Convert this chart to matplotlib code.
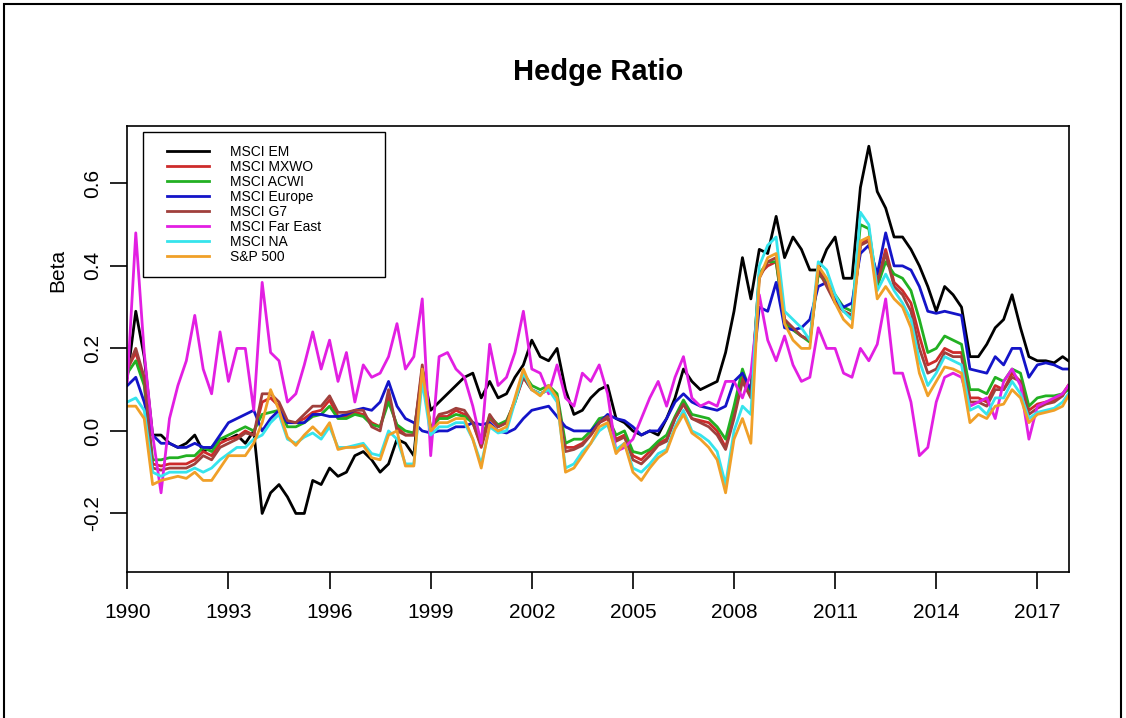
import numpy as np
import matplotlib
matplotlib.use('Agg')
import matplotlib.pyplot as plt
from matplotlib.patches import Rectangle
from matplotlib.legend_handler import HandlerLine2D

plt.rcParams['font.family'] = ['Liberation Sans', 'DejaVu Sans']
plt.rcParams['axes.unicode_minus'] = False

# quarterly betas, 1990Q1 .. 2017Q4 (last point = Dec 2017)
dates = np.append(np.arange(1990.0, 2018.0, 0.25), 2017.92)

msci_em = [
    0.13, 0.29, 0.18, -0.01, -0.01, -0.03, -0.04, -0.03, -0.01, -0.05, -0.04, -0.02, -0.02, -0.01, -0.03, 0.0, -0.2, -0.15, -0.13,
    -0.16, -0.2, -0.2, -0.12, -0.13, -0.09, -0.11, -0.1, -0.06, -0.05, -0.07, -0.1, -0.08, -0.02, -0.03, -0.06, 0.15, 0.05, 0.07,
    0.09, 0.11, 0.13, 0.14, 0.08, 0.12, 0.08, 0.09, 0.13, 0.16, 0.22, 0.18, 0.17, 0.2, 0.1, 0.04, 0.05, 0.08, 0.1,
    0.11, 0.03, 0.02, 0.0, -0.01, 0.0, -0.01, 0.03, 0.08, 0.15, 0.12, 0.1, 0.11, 0.12, 0.19, 0.29, 0.42, 0.32,
    0.44, 0.43, 0.52, 0.42, 0.47, 0.44, 0.39, 0.39, 0.44, 0.47, 0.37, 0.37, 0.59, 0.69, 0.58, 0.54, 0.47, 0.47, 0.44,
    0.40, 0.35, 0.29, 0.35, 0.33, 0.30, 0.18, 0.18, 0.21, 0.25, 0.27, 0.33, 0.25, 0.18, 0.17, 0.17, 0.165, 0.18, 0.17]

msci_mxwo = [
    0.15, 0.19, 0.12, -0.08, -0.085, -0.08, -0.08, -0.08, -0.07, -0.05, -0.06, -0.03, -0.02, -0.015, 0.0, -0.01, 0.07, 0.08, 0.06,
    0.02, 0.02, 0.03, 0.045, 0.05, 0.075, 0.035, 0.035, 0.045, 0.04, 0.02, 0.01, 0.08, 0.01, -0.01, -0.01, 0.15, 0.0, 0.035,
    0.035, 0.05, 0.04, 0.02, -0.04, 0.03, 0.01, 0.02, 0.07, 0.13, 0.1, 0.09, 0.1, 0.08, -0.04, -0.04, -0.03, -0.01, 0.02,
    0.03, -0.02, -0.01, -0.06, -0.07, -0.05, -0.03, -0.02, 0.03, 0.065, 0.03, 0.025, 0.02, 0.0, -0.04, 0.04, 0.13, 0.09,
    0.38, 0.4, 0.41, 0.27, 0.245, 0.23, 0.22, 0.39, 0.36, 0.32, 0.29, 0.28, 0.45, 0.47, 0.36, 0.44, 0.36, 0.34, 0.31,
    0.23, 0.16, 0.17, 0.2, 0.19, 0.19, 0.08, 0.08, 0.07, 0.11, 0.1, 0.14, 0.12, 0.05, 0.065, 0.07, 0.075, 0.09, 0.11]

msci_acwi = [
    0.14, 0.17, 0.11, -0.07, -0.07, -0.065, -0.065, -0.06, -0.06, -0.04, -0.05, -0.02, -0.01, 0.0, 0.01, 0.0, 0.04, 0.045, 0.05,
    0.01, 0.01, 0.02, 0.035, 0.04, 0.06, 0.03, 0.03, 0.04, 0.035, 0.015, 0.01, 0.07, 0.015, 0.0, -0.005, 0.14, 0.005, 0.03,
    0.03, 0.04, 0.035, 0.02, -0.02, 0.035, 0.015, 0.025, 0.07, 0.14, 0.11, 0.1, 0.11, 0.09, -0.03, -0.02, -0.02, 0.0, 0.03,
    0.035, -0.01, 0.0, -0.05, -0.055, -0.045, -0.025, -0.01, 0.035, 0.075, 0.04, 0.035, 0.03, 0.01, -0.02, 0.06, 0.15, 0.09,
    0.38, 0.41, 0.41, 0.26, 0.245, 0.23, 0.215, 0.38, 0.36, 0.33, 0.3, 0.29, 0.5, 0.49, 0.35, 0.41, 0.38, 0.37, 0.34,
    0.27, 0.19, 0.2, 0.23, 0.22, 0.21, 0.1, 0.1, 0.09, 0.13, 0.12, 0.15, 0.14, 0.06, 0.08, 0.085, 0.085, 0.09, 0.1]

msci_europe = [
    0.11, 0.13, 0.07, -0.01, -0.03, -0.03, -0.04, -0.04, -0.03, -0.04, -0.04, -0.01, 0.02, 0.03, 0.04, 0.05, 0.0, 0.03, 0.05,
    0.02, 0.02, 0.02, 0.04, 0.04, 0.035, 0.035, 0.04, 0.05, 0.055, 0.05, 0.07, 0.12, 0.06, 0.03, 0.02, 0.0, -0.005, 0.0,
    0.0, 0.01, 0.01, 0.02, 0.015, 0.02, 0.0, -0.005, 0.005, 0.03, 0.05, 0.055, 0.06, 0.035, 0.01, 0.0, 0.0, 0.0, 0.02,
    0.04, 0.03, 0.025, 0.01, -0.01, 0.0, 0.0, 0.03, 0.07, 0.09, 0.07, 0.06, 0.055, 0.05, 0.06, 0.12, 0.14, 0.1,
    0.3, 0.29, 0.36, 0.25, 0.245, 0.25, 0.27, 0.35, 0.36, 0.32, 0.3, 0.31, 0.43, 0.45, 0.38, 0.48, 0.4, 0.4, 0.39,
    0.35, 0.29, 0.285, 0.29, 0.285, 0.28, 0.15, 0.145, 0.14, 0.18, 0.16, 0.2, 0.2, 0.13, 0.16, 0.165, 0.16, 0.15, 0.15]

msci_g7 = [
    0.15, 0.2, 0.13, -0.09, -0.095, -0.09, -0.09, -0.09, -0.08, -0.06, -0.07, -0.04, -0.03, -0.02, -0.005, -0.01, 0.09, 0.09, 0.07,
    0.025, 0.02, 0.04, 0.06, 0.06, 0.085, 0.045, 0.045, 0.05, 0.05, 0.01, 0.0, 0.1, 0.0, -0.01, -0.01, 0.16, 0.005, 0.04,
    0.045, 0.055, 0.05, 0.02, -0.035, 0.04, 0.01, 0.02, 0.075, 0.13, 0.1, 0.09, 0.1, 0.08, -0.05, -0.045, -0.035, -0.01, 0.02,
    0.035, -0.025, -0.015, -0.07, -0.08, -0.06, -0.035, -0.025, 0.03, 0.065, 0.03, 0.02, 0.01, -0.01, -0.045, 0.03, 0.12, 0.08,
    0.37, 0.41, 0.42, 0.27, 0.25, 0.23, 0.22, 0.39, 0.35, 0.31, 0.29, 0.28, 0.45, 0.46, 0.36, 0.43, 0.35, 0.33, 0.29,
    0.2, 0.14, 0.15, 0.19, 0.18, 0.18, 0.07, 0.07, 0.06, 0.1, 0.1, 0.13, 0.12, 0.04, 0.055, 0.065, 0.07, 0.085, 0.11]

msci_far_east = [
    0.12, 0.48, 0.19, -0.01, -0.15, 0.03, 0.11, 0.17, 0.28, 0.15, 0.09, 0.24, 0.12, 0.2, 0.2, 0.05, 0.36, 0.19, 0.17,
    0.07, 0.09, 0.16, 0.24, 0.15, 0.22, 0.12, 0.19, 0.07, 0.16, 0.13, 0.14, 0.18, 0.26, 0.15, 0.18, 0.32, -0.06, 0.18,
    0.19, 0.15, 0.13, 0.06, -0.03, 0.21, 0.11, 0.13, 0.19, 0.29, 0.15, 0.14, 0.09, 0.16, 0.08, 0.06, 0.14, 0.12, 0.16,
    0.09, -0.05, -0.04, -0.02, 0.03, 0.08, 0.12, 0.06, 0.13, 0.18, 0.08, 0.06, 0.07, 0.06, 0.12, 0.12, 0.08, 0.14,
    0.33, 0.22, 0.17, 0.23, 0.16, 0.12, 0.13, 0.25, 0.2, 0.2, 0.14, 0.13, 0.2, 0.17, 0.21, 0.32, 0.14, 0.14, 0.07,
    -0.06, -0.04, 0.07, 0.13, 0.14, 0.13, 0.06, 0.07, 0.08, 0.03, 0.12, 0.15, 0.11, -0.02, 0.06, 0.07, 0.08, 0.09, 0.11]

msci_na = [
    0.07, 0.08, 0.05, -0.1, -0.11, -0.1, -0.1, -0.1, -0.09, -0.1, -0.09, -0.07, -0.055, -0.04, -0.04, -0.02, -0.01, 0.02, 0.04,
    -0.02, -0.03, -0.015, -0.005, -0.02, 0.01, -0.04, -0.04, -0.035, -0.03, -0.055, -0.06, 0.0, -0.02, -0.08, -0.08, 0.12, -0.01, 0.01,
    0.01, 0.02, 0.02, -0.02, -0.08, 0.01, -0.005, 0.0, 0.07, 0.14, 0.1, 0.09, 0.1, 0.07, -0.09, -0.08, -0.05, -0.03, 0.0,
    0.015, -0.045, -0.03, -0.09, -0.1, -0.08, -0.055, -0.045, 0.01, 0.05, 0.0, -0.01, -0.025, -0.05, -0.13, 0.0, 0.06, 0.04,
    0.4, 0.45, 0.47, 0.29, 0.27, 0.25, 0.22, 0.41, 0.39, 0.33, 0.29, 0.27, 0.53, 0.5, 0.34, 0.38, 0.34, 0.31, 0.27,
    0.17, 0.11, 0.14, 0.18, 0.17, 0.16, 0.05, 0.06, 0.04, 0.08, 0.08, 0.12, 0.09, 0.03, 0.045, 0.05, 0.055, 0.07, 0.09]

sp500 = [
    0.06, 0.06, 0.03, -0.13, -0.12, -0.115, -0.11, -0.115, -0.1, -0.12, -0.12, -0.09, -0.06, -0.06, -0.06, -0.03, 0.02, 0.1, 0.05,
    -0.015, -0.035, -0.01, 0.01, -0.01, 0.02, -0.045, -0.04, -0.04, -0.035, -0.065, -0.07, -0.01, 0.0, -0.085, -0.085, 0.15, 0.0, 0.02,
    0.02, 0.03, 0.03, -0.02, -0.09, 0.015, 0.0, 0.01, 0.08, 0.15, 0.1, 0.085, 0.11, 0.08, -0.1, -0.09, -0.06, -0.03, 0.01,
    0.02, -0.055, -0.03, -0.1, -0.12, -0.09, -0.065, -0.05, 0.005, 0.04, -0.005, -0.02, -0.04, -0.07, -0.15, -0.02, 0.03, -0.03,
    0.37, 0.42, 0.43, 0.26, 0.22, 0.2, 0.2, 0.4, 0.37, 0.31, 0.27, 0.25, 0.46, 0.47, 0.32, 0.35, 0.32, 0.3, 0.25,
    0.14, 0.085, 0.12, 0.155, 0.15, 0.14, 0.02, 0.04, 0.03, 0.06, 0.065, 0.1, 0.08, 0.02, 0.04, 0.045, 0.05, 0.06, 0.085]

series = [msci_em, msci_mxwo, msci_acwi, msci_europe, msci_g7, msci_far_east, msci_na, sp500]
labels = ['MSCI EM', 'MSCI MXWO', 'MSCI ACWI', 'MSCI Europe', 'MSCI G7',
          'MSCI Far East', 'MSCI NA', 'S&P 500']
colors = ['black', '#cd2b2b', '#22b022', '#1414c8', '#a0403c', '#e21fe2', '#36e4ec', '#f0a028']

year_ticks = [1990, 1993, 1996, 1999, 2002, 2005, 2008, 2011, 2014, 2017]
beta_ticks = [-0.2, 0.0, 0.2, 0.4, 0.6]


class IndentedLine(HandlerLine2D):
    # legend sample line that leaves a small gap on its left, like R's legend()
    def get_xdata(self, legend, xdescent, ydescent, width, height, fontsize):
        xdata = np.array([-xdescent + 8.5, -xdescent + width])
        return xdata, xdata


fig = plt.figure(figsize = (11.26, 7.18), dpi = 100)
ax = fig.add_axes([0.1131, 0.2033, 0.8366, 0.6212])

for i in range(len(series)):
    ax.plot(dates, series[i], color = colors[i], linewidth = 2.0, label = labels[i])

ax.set_xlim(dates[0], dates[-1] + 0.03)
ax.set_ylim(-0.342, 0.739)

ax.set_xticks(year_ticks)
ax.set_xticklabels([str(y) for y in year_ticks], fontsize = 15)
ax.set_yticks(beta_ticks)
ax.set_yticklabels(['%.1f' % b for b in beta_ticks], fontsize = 15, rotation = 90, va = 'center')
ax.tick_params(axis = 'x', length = 12, width = 1.2, pad = 10)
ax.tick_params(axis = 'y', length = 12, width = 1.2, pad = 6)
for s in ax.spines.values():
    s.set_linewidth(1.2)

ax.set_ylabel('Beta', fontsize = 15)
ax.yaxis.set_label_coords(-0.064, 0.677)

fig.text(0.531, 1 - 72 / 718, 'Hedge Ratio', ha = 'center', va = 'center',
         fontsize = 21, fontweight = 'bold')

leg = ax.legend(loc = 'upper left', bbox_to_anchor = (0.0167, 0.666, 0.257, 0.3205),
                mode = 'expand', fontsize = 10, frameon = True, fancybox = False,
                framealpha = 1, edgecolor = 'black', borderpad = 0.9,
                labelspacing = 0.08, handlelength = 3.85, handletextpad = 1.5,
                borderaxespad = 0, handler_map = {matplotlib.lines.Line2D: IndentedLine()})
leg.get_frame().set_linewidth(1.0)

# frame around the whole device (bottom edge falls outside the image)
fig.patches.append(Rectangle((4 / 1126, -0.02), 1117 / 1126, 1.02 - 4 / 718,
                             transform = fig.transFigure, fill = False,
                             edgecolor = 'black', linewidth = 1.5))

plt.savefig('out.png', dpi = 100)
